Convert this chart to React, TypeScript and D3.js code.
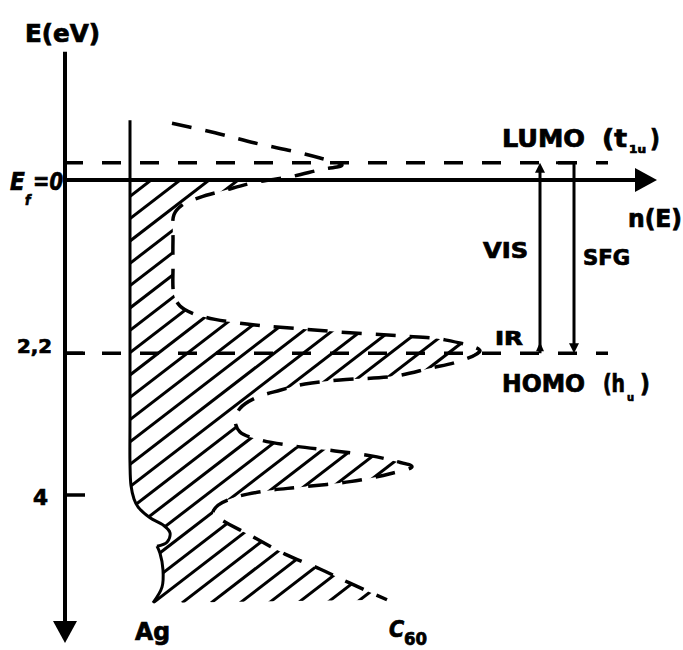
import * as d3 from 'd3';
import React from 'react';

// energy axis in eV (downwards = below the Fermi level), n(E) in arbitrary units
const lumoE = -0.22;
const homoE = 2.2;
const agTopE = -0.76;
const axisTopE = -1.63;
const axisBottomE = 5.88;
const hatchBottomE = 5.37;
const nAxisEnd = 59.2;
const levelEnd = 54.3;

const tickValues = [2.2, 4];
const tickLabels = ['2,2', '4'];

// Ag density of states, [E, n]
const agUpper: [number, number][] = [
   [-0.76, 6.5], [3.0, 6.5], [3.6, 6.5], [3.88, 6.6], [4.05, 6.9], [4.15, 7.3],
   [4.29, 8.5], [4.38, 9.8], [4.48, 10.5], [4.6, 10.2], [4.65, 9.2],
];
const agLower: [number, number][] = [
   [4.65, 9.2], [4.74, 9.5], [4.95, 9.8], [5.17, 9.7], [5.37, 8.8],
];

// C60 density of states outline, [E, n]
const c60Outline: [number, number][] = [
   [-0.72, 10.7], [-0.6, 15.0], [-0.47, 19.0], [-0.36, 23.0], [-0.28, 25.5], [-0.19, 27.7],
   [-0.13, 25.5], [-0.04, 22.5], [0.03, 19.0], [0.13, 16.0], [0.22, 13.5], [0.32, 11.7],
   [0.44, 10.9], [0.76, 10.8], [1.08, 10.8], [1.46, 10.9], [1.6, 11.5], [1.69, 12.7],
   [1.77, 15.0], [1.84, 19.0], [1.89, 23.5], [1.94, 28.5], [1.98, 33.5], [2.03, 38.0],
   [2.17, 41.5], [2.31, 39.2], [2.39, 36.5], [2.49, 33.0], [2.54, 27.5], [2.59, 24.0],
   [2.67, 21.5], [2.77, 19.0], [2.9, 17.5], [3.05, 17.0], [3.2, 17.5], [3.3, 19.5],
   [3.38, 23.0], [3.44, 27.0], [3.5, 30.5], [3.57, 33.0], [3.64, 34.7], [3.73, 32.5],
   [3.83, 28.5], [3.9, 23.5], [3.95, 20.0], [4.03, 17.0], [4.13, 15.3], [4.23, 14.8],
   [4.32, 15.7], [4.51, 18.5], [4.75, 22.0], [4.94, 25.5], [5.12, 28.5], [5.33, 32.2],
];

// optical transitions between HOMO and LUMO
const transitions = [
   { label: 'VIS', n: 47.5 },
   { label: 'SFG', n: 50.9 },
];

const W = 683;
const H = 650;
const font = "'DejaVu Sans Condensed', 'DejaVu Sans', sans-serif";

const App = () => {
   const x = d3.scaleLinear().domain([0, 60]).range([65, 665]);
   const y = d3.scaleLinear().domain([0, 4]).range([180, 495]);

   const line = d3
      .line<[number, number]>()
      .x((d) => x(d[1]))
      .y((d) => y(d[0]))
      .curve(d3.curveCatmullRom.alpha(0.5));

   const x0 = x(0);
   const y0 = y(0);
   const yLumo = y(lumoE);
   const yHomo = y(homoE);
   const yBottom = y(hatchBottomE);

   // clip region: C60 outline on the right, Ag curve on the left
   const clipD =
      (line(c60Outline) as string) +
      (line([...agLower].reverse()) as string).replace(/^M/, 'L') +
      (line([...agUpper].reverse()) as string).replace(/^M/, 'L') +
      'Z';

   // hatching, slope ~37 deg
   const slope = 0.77;
   const spacing = 29;
   const hatch = d3.range(-30, 16).map((k) => {
      const xb = x(agLower[agLower.length - 1][1]) + k * spacing;
      const yb = yBottom;
      const yt = y(agTopE);
      return { x1: xb, y1: yb, x2: xb + (yb - yt) / slope, y2: yt };
   });

   const stroke = '#000';
   const [vis, sfg] = transitions;
   const xVis = x(vis.n);
   const xSfg = x(sfg.n);
   const fit = { lengthAdjust: 'spacingAndGlyphs' };

   return (
      <svg
         width={W}
         height={H}
         style={{ position: 'absolute', left: 0, top: 0, background: '#fff' }}
      >
         <defs>
            <clipPath id="band">
               <rect x={0} y={y0} width={W} height={yBottom - y0} />
            </clipPath>
            <clipPath id="c60area">
               <path d={clipD} />
            </clipPath>
         </defs>

         {/* hatched occupied states */}
         <g clipPath="url(#band)">
            <g clipPath="url(#c60area)">
               {hatch.map((h, i) => (
                  <line key={i} {...h} stroke={stroke} strokeWidth={3} />
               ))}
            </g>
         </g>

         {/* C60 DOS outline */}
         <path
            d={line(c60Outline) as string}
            fill="none"
            stroke={stroke}
            strokeWidth={3.5}
            strokeDasharray="20 14"
         />

         {/* Ag DOS */}
         <path d={line(agUpper) as string} fill="none" stroke={stroke} strokeWidth={3} />
         <path d={line(agLower) as string} fill="none" stroke={stroke} strokeWidth={3} />

         {/* LUMO / HOMO levels */}
         {[yLumo, yHomo].map((yy, i) => (
            <line
               key={i}
               x1={x0 - 1}
               x2={x(levelEnd)}
               y1={yy}
               y2={yy}
               stroke={stroke}
               strokeWidth={3.5}
               strokeDasharray="19 19"
            />
         ))}

         {/* axes */}
         <line x1={x0} x2={x0} y1={y(axisTopE)} y2={y(axisBottomE) - 18} stroke={stroke} strokeWidth={4} />
         <path
            d={`M${x0},${y(axisBottomE)} L${x0 - 12},${y(axisBottomE) - 22} L${x0 + 12},${y(axisBottomE) - 22}Z`}
            fill={stroke}
         />
         <line x1={x0} x2={x(nAxisEnd) - 18} y1={y0} y2={y0} stroke={stroke} strokeWidth={4} />
         <path
            d={`M${x(nAxisEnd)},${y0} L${x(nAxisEnd) - 22},${y0 - 12} L${x(nAxisEnd) - 22},${y0 + 12}Z`}
            fill={stroke}
         />
         {tickValues.map((t) => (
            <line key={t} x1={x0} x2={x0 + 20} y1={y(t)} y2={y(t)} stroke={stroke} strokeWidth={3.5} />
         ))}

         {/* VIS arrow (up) with IR head at the bottom */}
         <line x1={xVis} x2={xVis} y1={yHomo} y2={yLumo + 8} stroke={stroke} strokeWidth={3} />
         <path d={`M${xVis},${yLumo} L${xVis - 5},${yLumo + 10} L${xVis + 5},${yLumo + 10}Z`} fill={stroke} />
         <path d={`M${xVis},${yHomo - 11} L${xVis - 4},${yHomo - 2} L${xVis + 4},${yHomo - 2}Z`} fill={stroke} />

         {/* SFG arrow (down) */}
         <path
            d={`M${xSfg - 18},${yLumo} L${xSfg},${yLumo} L${xSfg},${yHomo - 8}`}
            fill="none"
            stroke={stroke}
            strokeWidth={3}
         />
         <path d={`M${xSfg},${yHomo} L${xSfg - 5},${yHomo - 10} L${xSfg + 5},${yHomo - 10}Z`} fill={stroke} />

         {/* labels */}
         <g fontFamily={font} fontWeight="bold" fill={stroke} stroke={stroke} strokeWidth={0.7}>
            <text x={17} y={y(tickValues[0])} fontSize={20} textLength={35} {...fit}>{tickLabels[0]}</text>
            <text x={33} y={y(tickValues[1]) + 10} fontSize={22} textLength={15} {...fit}>{tickLabels[1]}</text>

            <text x={25} y={42} fontSize={24} textLength={75} {...fit}>E(eV)</text>
            <text x={10} y={190} fontSize={24} fontStyle="italic">E</text>
            <text x={25} y={205} fontSize={14} fontStyle="italic">f</text>
            <text x={33} y={190} fontSize={24} fontStyle="italic" textLength={30} {...fit}>=0</text>
            <text x={628} y={227} fontSize={24} textLength={54} {...fit}>n(E)</text>

            <text x={502} y={147} fontSize={24} textLength={83} {...fit}>LUMO</text>
            <text x={602} y={147} fontSize={24} textLength={25} {...fit}>(t</text>
            <text x={629} y={153} fontSize={11} textLength={17} {...fit}>1u</text>
            <text x={650} y={147} fontSize={24}>)</text>

            <text x={502} y={392} fontSize={24} textLength={83} {...fit}>HOMO</text>
            <text x={603} y={392} fontSize={24} textLength={22} {...fit}>(h</text>
            <text x={627} y={401} fontSize={11}>u</text>
            <text x={640} y={392} fontSize={24}>)</text>

            <text x={483} y={258} fontSize={22} textLength={45} {...fit}>{vis.label}</text>
            <text x={583} y={265} fontSize={21} textLength={47} {...fit}>{sfg.label}</text>
            <text x={495} y={345} fontSize={19} textLength={28} {...fit}>IR</text>

            <text x={135} y={640} fontSize={24} textLength={35} {...fit}>Ag</text>
            <text x={389} y={637} fontSize={23} fontStyle="italic">C</text>
            <text x={404} y={645} fontSize={18} textLength={23} {...fit}>60</text>
         </g>
      </svg>
   );
};

export default App;
